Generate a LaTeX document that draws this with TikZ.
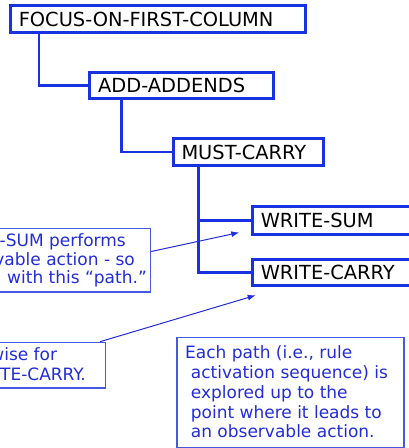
\documentclass[tikz,border=0pt]{standalone}
\usepackage{fontspec}
\setmainfont{DejaVu Sans}
\usetikzlibrary{arrows.meta}
\definecolor{boxblue}{RGB}{25,50,225}
\definecolor{txtblue}{RGB}{35,45,215}
\definecolor{callblue}{RGB}{70,90,225}
\begin{document}
\begin{tikzpicture}[x=1pt,y=-1pt,
  rulebox/.style={draw=boxblue,line width=3pt,fill=white,anchor=west,inner xsep=8.5pt,inner ysep=0pt,
    text height=14.6pt,text depth=0pt,align=left,font=\fontsize{19.4}{24}\selectfont,text=black},
  callbox/.style={draw=callblue,line width=1.5pt,fill=white,inner sep=0pt},
  conn/.style={draw=boxblue,line width=2.5pt},
  calltext/.style={font=\fontsize{17}{20}\selectfont,text=txtblue,inner sep=0pt},
  callarrow/.style={draw=txtblue,line width=1pt,-{Latex[length=8pt,width=6pt]}}
]
\useasboundingbox (0,0) rectangle (408,448);
\fill[white] (0,0) rectangle (408,448);
% tree boxes
\node[rulebox,minimum width=295.4pt,minimum height=27pt,text width=278.4pt] (focus) at (8.8,19) {FOCUS-ON-FIRST-COLUMN};
\node[rulebox,minimum width=183.3pt,minimum height=26.3pt,text width=166.3pt] (add) at (88.2,85.3) {ADD-ADDENDS};
\node[rulebox,minimum width=150pt,minimum height=27pt,text width=133pt] (must) at (171.5,152) {MUST-CARRY};
\node[rulebox,minimum width=180pt,minimum height=27.7pt,text width=163pt] (wsum) at (250.8,220.3) {WRITE-SUM};
\node[rulebox,minimum width=180pt,minimum height=26.6pt,text width=163pt] (wcarry) at (250.8,272.5) {WRITE-CARRY};
% connectors
\draw[conn] ([xshift=30pt]focus.south west) |- (add.west);
\draw[conn] ([xshift=33.5pt]add.south west) |- (must.west);
\coordinate (mtrunk) at ([xshift=27.2pt]must.south west);
\draw[conn] (mtrunk) |- (wcarry.west);
\draw[conn] (mtrunk |- wsum.west) -- (wsum.west);
% callout 1
\node[callbox,minimum width=211.2pt,minimum height=63.5pt,anchor=north east] (c1) at (151.2,227.5) {};
\node[calltext,anchor=base east] (c1a) at (126,246.5) {-SUM performs};
\node[calltext,anchor=base east] (c1b) at (135,265.5) {vable action - so};
\node[calltext,anchor=base east] (c1c) at (147,283.3) {with this “path.”};
\coordinate (a1) at (239.3,232.5);
\draw[callarrow] ([yshift=8.5pt]c1.east) -- (a1);
% callout 2
\node[callbox,minimum width=166pt,minimum height=45.6pt,anchor=north east] (c2) at (106,341.7) {};
\node[calltext,anchor=base east] (c2a) at (57.3,360) {wise for};
\node[calltext,anchor=base east] (c2b) at (86,380) {TE-CARRY.};
\coordinate (a2) at (255.7,295.3);
\draw[callarrow] ([xshift=-6pt]c2.north east) -- (a2);
% explanation box
\node[callbox,minimum width=227pt,minimum height=110.3pt,anchor=north west] (c3) at (176.4,336.7) {};
\node[calltext,anchor=base west] (c3a) at (185,358.3) {Each path (i.e., rule};
\node[calltext,anchor=base west] (c3b) at (190.7,378) {activation sequence) is};
\node[calltext,anchor=base west] (c3c) at (190.7,398) {explored up to the};
\node[calltext,anchor=base west] (c3d) at (190.7,418) {point where it leads to};
\node[calltext,anchor=base west] (c3e) at (190.7,437.5) {an observable action.};
\end{tikzpicture}
\end{document}
